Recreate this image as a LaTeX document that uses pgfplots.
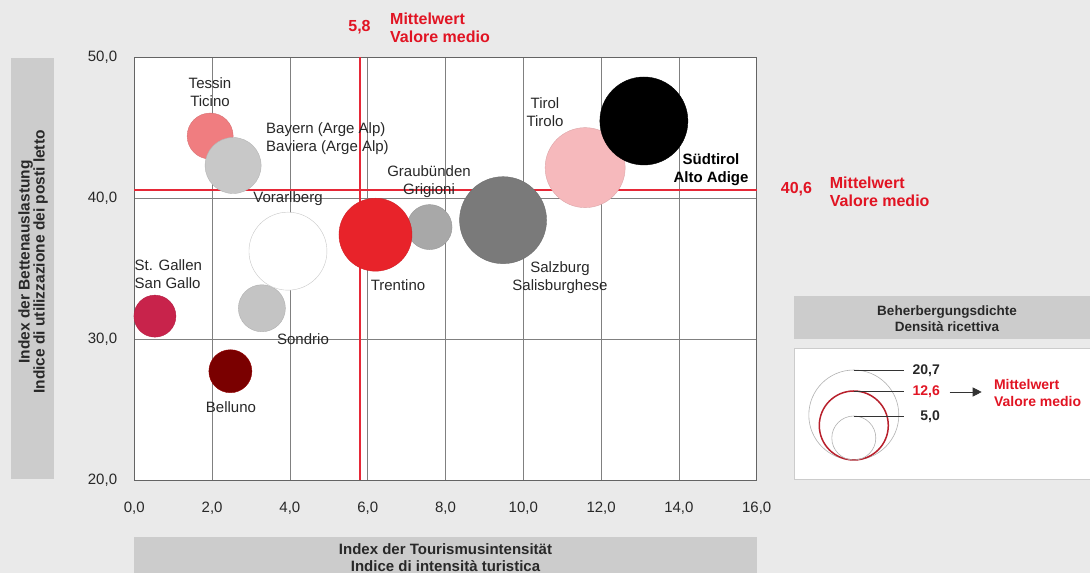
\documentclass[border=0pt]{standalone}
\usepackage{pgfplots}
\pgfplotsset{compat=1.18}
\usepackage{fontspec}
\setmainfont{Liberation Sans}
\usetikzlibrary{arrows.meta}
\definecolor{bg}{RGB}{234,234,234}
\definecolor{boxgray}{RGB}{204,204,204}
\definecolor{gridgray}{RGB}{128,128,128}
\definecolor{axisgray}{RGB}{100,100,100}
\definecolor{meanred}{RGB}{230,40,55}
\definecolor{txtred}{RGB}{225,20,35}
\definecolor{txt}{RGB}{40,40,40}
\definecolor{cTessin}{RGB}{240,125,128}
\definecolor{cBayern}{RGB}{200,200,200}
\definecolor{cTrentino}{RGB}{232,35,42}
\definecolor{cGraub}{RGB}{168,168,168}
\definecolor{cStGallen}{RGB}{200,35,75}
\definecolor{cSondrio}{RGB}{196,196,196}
\definecolor{cBelluno}{RGB}{122,0,0}
\definecolor{cTirol}{RGB}{246,185,188}
\definecolor{cSalzburg}{RGB}{122,122,122}
\definecolor{cSued}{RGB}{0,0,0}
\definecolor{cVorarl}{RGB}{200,200,200}
\newcommand{\lbl}{\fontsize{15}{18}\selectfont}
\newcommand{\lblb}{\fontsize{16}{18}\selectfont\bfseries}
\begin{document}
\begin{tikzpicture}[x=1pt,y=1pt]
\useasboundingbox (0,0) rectangle (1090,573);
\fill[bg] (0,0) rectangle (1090,573);
% y label box
\fill[boxgray] (11,94) rectangle (54,515);
\node[rotate=90, align=center, font=\fontsize{15.5}{15}\selectfont\bfseries, text=txt] at (33,311) {Index der Bettenauslastung\\Indice di utilizzazione dei posti letto};
% x label box
\begin{scope}
\clip (0,0) rectangle (1090,573);
\fill[boxgray] (134.3,0) rectangle (756.7,36);
\node[align=center, font=\fontsize{15}{17}\selectfont\bfseries, text=txt] at (445.5,15) {Index der Tourismusintensität\\Indice di intensità turistica};
\end{scope}
\begin{axis}[
  at={(134.3pt,93pt)}, anchor=south west,
  scale only axis, width=622.4pt, height=422.7pt,
  xmin=0, xmax=16, ymin=20, ymax=50,
  xtick={0,2,4,6,8,10,12,14,16},
  ytick={20,30,40,50},
  grid=major,
  major grid style={gridgray, line width=0.8pt},
  axis line style={axisgray, line width=0.8pt},
  major tick length=0pt,
  axis background/.style={fill=white},
  xticklabel={\pgfmathprintnumber[assume math mode=true,fixed,fixed zerofill,precision=1,use comma]{\tick}},
  yticklabel={\pgfmathprintnumber[assume math mode=true,fixed,fixed zerofill,precision=1,use comma]{\tick}},
  xticklabel style={font=\fontsize{15}{18}\selectfont, text=txt, anchor=base, yshift=-33pt},
  yticklabel style={font=\fontsize{15}{18}\selectfont, text=txt, anchor=east, inner sep=0pt, xshift=-17pt},
  clip=false,
]
% mean lines
\addplot[meanred, line width=1.7pt] coordinates {(5.8,20) (5.8,50)};
\addplot[meanred, line width=1.7pt] coordinates {(0,40.6) (16,40.6)};
% bubbles
\addplot[only marks, mark=*, mark size=23pt, mark options={fill=cTessin, draw=cTessin!90!black}] coordinates {(1.95,44.41)};
\addplot[only marks, mark=*, mark size=28pt, mark options={fill=cBayern, draw=cBayern!90!black}] coordinates {(2.54,42.32)};
\addplot[only marks, mark=*, mark size=23.5pt, mark options={fill=cSondrio, draw=cSondrio!90!black}] coordinates {(3.28,32.19)};
\addplot[only marks, mark=*, mark size=39pt, mark options={fill=white, draw=cVorarl}] coordinates {(3.95,36.24)};
\addplot[only marks, mark=*, mark size=22.5pt, mark options={fill=cGraub, draw=cGraub!90!black}] coordinates {(7.59,37.95)};
\addplot[only marks, mark=*, mark size=36.5pt, mark options={fill=cTrentino, draw=cTrentino!90!black}] coordinates {(6.20,37.41)};
\addplot[only marks, mark=*, mark size=21pt, mark options={fill=cStGallen, draw=cStGallen!90!black}] coordinates {(0.53,31.63)};
\addplot[only marks, mark=*, mark size=21.5pt, mark options={fill=cBelluno, draw=cBelluno!80!red}] coordinates {(2.47,27.72)};
\addplot[only marks, mark=*, mark size=43.5pt, mark options={fill=cSalzburg, draw=cSalzburg!90!black}] coordinates {(9.48,38.44)};
\addplot[only marks, mark=*, mark size=40pt, mark options={fill=cTirol, draw=cTirol!90!black}] coordinates {(11.59,42.17)};
\addplot[only marks, mark=*, mark size=44pt, mark options={fill=cSued, draw=cSued}] coordinates {(13.10,45.48)};
\end{axis}
% bubble labels
\node[align=center, font=\lbl, text=txt] at (210,481) {Tessin\\Ticino};
\node[align=left, anchor=west, font=\lbl, text=txt, inner sep=0pt] at (266,434) {Bayern (Arge Alp)\\Baviera (Arge Alp)};
\node[align=center, font=\lbl, text=txt] at (429,391) {Graubünden\\Grigioni};
\node[align=center, font=\lbl, text=txt] at (288,374) {Vorarlberg};
\node[align=left, anchor=west, font=\lbl, text=txt, inner sep=0pt] at (134.5,298.5) {St. Gallen\\San Gallo};
\node[align=center, font=\lbl, text=txt] at (398,288) {Trentino};
\node[align=center, font=\lbl, text=txt] at (303,234) {Sondrio};
\node[align=center, font=\lbl, text=txt] at (231,166.3) {Belluno};
\node[align=center, font=\lbl, text=txt] at (545,461) {Tirol\\Tirolo};
\node[align=center, font=\lbl\bfseries, text=black] at (711,403.5) {Südtirol\\Alto Adige};
\node[align=center, font=\lbl, text=txt] at (560,295) {Salzburg\\Salisburghese};
% mean annotations
\node[font=\lblb, text=txtred] at (359.5,546.3) {5,8};
\node[align=left, anchor=west, inner sep=0pt, font=\lblb, text=txtred] at (390,545) {Mittelwert\\Valore medio};
\node[font=\lblb, text=txtred] at (796.5,384) {40,6};
\node[align=left, anchor=west, inner sep=0pt, font=\lblb, text=txtred] at (829.7,381) {Mittelwert\\Valore medio};
% size legend
\fill[boxgray] (794.3,233.7) rectangle (1090,277);
\node[align=center, font=\fontsize{13.5}{16}\selectfont\bfseries, text=txt] at (947,254.3) {Beherbergungsdichte\\Densità ricettiva};
\filldraw[fill=white, draw=gray!40, line width=0.8pt] (794.3,93.7) rectangle (1095,225);
\draw[gray!60, line width=0.6pt] (853.8,158) circle (45);
\draw[meanred!80!black, line width=1.5pt] (853.8,147.5) circle (34.5);
\draw[gray!60, line width=0.6pt] (853.8,135) circle (22);
\draw[black!80, line width=0.7pt] (853.8,203) -- (904,203);
\draw[black!80, line width=0.7pt] (853.8,182) -- (904,182);
\draw[black!80, line width=0.7pt] (853.8,157) -- (904,157);
\node[anchor=east, font=\fontsize{14}{16}\selectfont\bfseries, text=txt, inner sep=0pt] at (940,202) {20,7};
\node[anchor=east, font=\fontsize{14}{16}\selectfont\bfseries, text=txtred, inner sep=0pt] at (940,181) {12,6};
\node[anchor=east, font=\fontsize{14}{16}\selectfont\bfseries, text=txt, inner sep=0pt] at (940,156) {5,0};
\draw[black!80, line width=0.7pt, -{Triangle[length=9pt,width=9pt]}] (949.7,181) -- (981.7,181);
\node[align=left, anchor=west, inner sep=0pt, font=\fontsize{14}{17}\selectfont\bfseries, text=txtred] at (993.8,180) {Mittelwert\\Valore medio};
\end{tikzpicture}
\end{document}
